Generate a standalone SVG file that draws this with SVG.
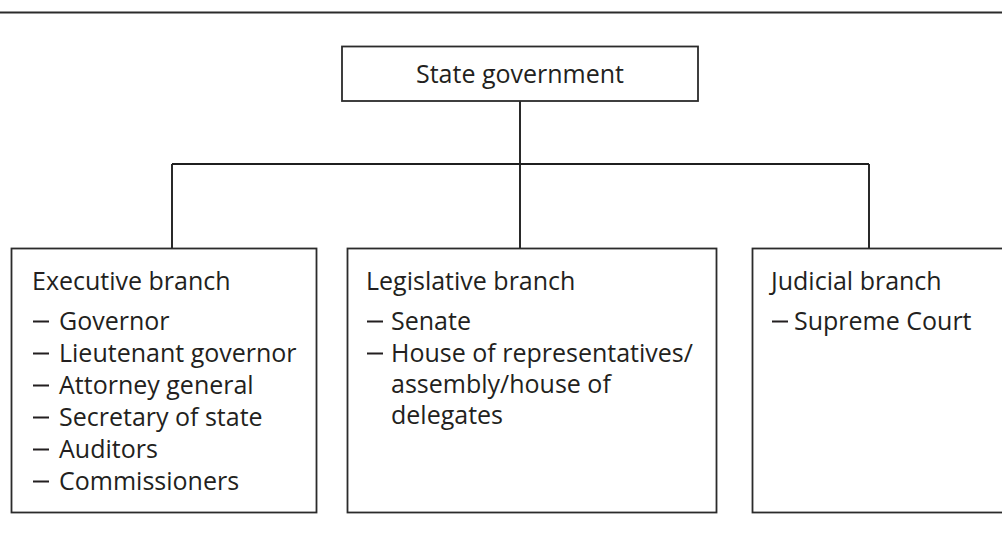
<svg xmlns="http://www.w3.org/2000/svg" width="1002" height="533" viewBox="0 0 1002 533">
  <style>
    .box { fill: #ffffff; stroke: #2b2b2b; stroke-width: 1.8; }
    .rule { stroke: #2b2b2b; stroke-width: 2.2; }
    .link { fill: none; stroke: #1f1f1f; stroke-width: 1.9; }
    text { font-family: "Open Sans", "Noto Sans", sans-serif; font-size: 25px; fill: #231f20; }
  </style>
  <defs>
    <!-- list bullet dash, placed at each item -->
    <rect id="dash" x="0" y="-9.5" width="16" height="2" fill="#231f20"/>
  </defs>
  <rect width="1002" height="533" fill="#ffffff"/>
  <line class="rule" x1="0" y1="12.5" x2="1002" y2="12.5"/>

  <g id="connectors">
    <path class="link" d="M520,101 V248"/>
    <path class="link" d="M172,164 H869"/>
    <path class="link" d="M172,164 V248"/>
    <path class="link" d="M869,164 V248"/>
  </g>

  <g id="state-government">
    <rect class="box" x="342" y="46.5" width="356" height="54.5"/>
    <text x="520" y="83" text-anchor="middle">State government</text>
  </g>

  <g id="executive-branch">
    <rect class="box" x="11.5" y="248.5" width="305" height="264"/>
    <text x="32" y="290">Executive branch</text>
    <use href="#dash" x="33" y="330"/><text x="59" y="330">Governor</text>
    <use href="#dash" x="33" y="362"/><text x="59" y="362">Lieutenant governor</text>
    <use href="#dash" x="33" y="394"/><text x="59" y="394">Attorney general</text>
    <use href="#dash" x="33" y="426"/><text x="59" y="426">Secretary of state</text>
    <use href="#dash" x="33" y="458"/><text x="59" y="458">Auditors</text>
    <use href="#dash" x="33" y="490"/><text x="59" y="490">Commissioners</text>
  </g>

  <g id="legislative-branch">
    <rect class="box" x="347.5" y="248.5" width="369" height="264"/>
    <text x="366" y="290">Legislative branch</text>
    <use href="#dash" x="367" y="330"/><text x="391" y="330">Senate</text>
    <use href="#dash" x="367" y="362"/><text x="391" y="362">House of representatives/</text>
    <text x="391" y="393">assembly/house of</text>
    <text x="391" y="424">delegates</text>
  </g>

  <g id="judicial-branch">
    <rect class="box" x="752.5" y="248.5" width="260" height="264"/>
    <text x="771" y="290">Judicial branch</text>
    <use href="#dash" x="772" y="330"/><text x="794" y="330">Supreme Court</text>
  </g>
</svg>
